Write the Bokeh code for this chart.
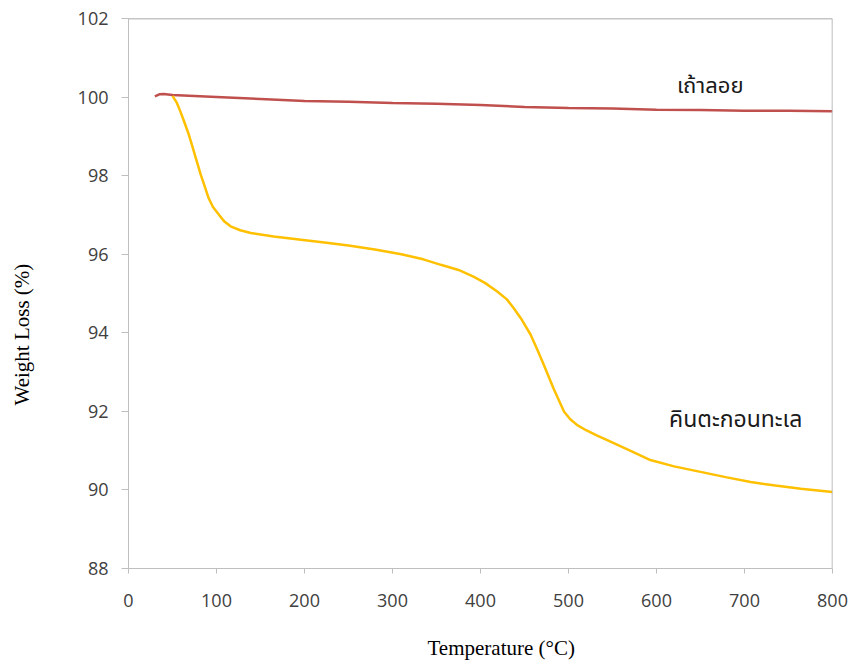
from bokeh.plotting import figure
from bokeh.models import SingleIntervalTicker, Span, Label, Title
from bokeh.embed import file_html
from bokeh.resources import INLINE

# Data
fly_ash_name = "เถ้าลอย"
fly_ash_temp = [30, 35, 40, 50, 100, 150, 200, 250, 300, 350, 400, 450, 500, 550, 600, 650, 700, 750, 800]
fly_ash_wt = [100.02, 100.07, 100.08, 100.05, 100.0, 99.95, 99.9, 99.88, 99.85, 99.83, 99.8, 99.75,
              99.72, 99.71, 99.68, 99.67, 99.65, 99.65, 99.64]

sediment_name = "คินตะกอนทะเล"
sediment_temp = [50, 55, 59, 63, 68, 72, 77, 82, 87, 91, 96, 103, 109, 116, 127, 139, 165, 196, 225,
                 250, 280, 310, 335, 355, 375, 392, 405, 419, 430, 438, 447, 457, 465, 472, 483, 495,
                 502, 510, 520, 532, 544, 570, 593, 620, 650, 680, 707, 735, 764, 800]
sediment_wt = [100.03, 99.85, 99.63, 99.39, 99.08, 98.79, 98.41, 98.03, 97.7, 97.43, 97.2, 97.0,
               96.83, 96.71, 96.61, 96.54, 96.45, 96.37, 96.29, 96.22, 96.12, 96.0, 95.87, 95.73,
               95.6, 95.43, 95.27, 95.05, 94.85, 94.62, 94.33, 93.95, 93.55, 93.18, 92.58, 91.99,
               91.8, 91.65, 91.52, 91.39, 91.27, 91.0, 90.76, 90.6, 90.46, 90.32, 90.2, 90.11,
               90.03, 89.95]

x_title = "Temperature (°C)"
y_title = "Weight Loss (%)"

p = figure(width=851, height=662, x_range=(0, 800), y_range=(88, 102),
           output_backend="svg", toolbar_location=None,
           min_border_left=128, min_border_right=19, min_border_top=18, min_border_bottom=94)

p.background_fill_color = "white"
p.border_fill_color = "white"
p.outline_line_color = None
p.xgrid.visible = False
p.ygrid.visible = False

p.line(fly_ash_temp, fly_ash_wt, line_color="#C0504D", line_width=2.5)
p.line(sediment_temp, sediment_wt, line_color="#FFC000", line_width=2.5)

for ax, interval in ((p.xaxis[0], 100), (p.yaxis[0], 2)):
    ax.ticker = SingleIntervalTicker(interval=interval)
    ax.minor_tick_line_color = None
    ax.major_tick_in = 0
    ax.axis_line_color = "#BFBFBF"
    ax.major_tick_line_color = "#BFBFBF"
    ax.major_label_text_font = "Open Sans"
    ax.major_label_text_font_size = "18px"
    ax.major_label_text_color = "#404040"

p.xaxis.major_tick_out = 5
p.yaxis.major_tick_out = 7
p.xaxis.major_label_standoff = 20
p.yaxis.major_label_standoff = 13

p.add_layout(Span(location=102, dimension="width", line_color="#8C8C8C", line_width=1.5))
p.add_layout(Span(location=800, dimension="height", line_color="#A6A6A6", line_width=1.5))

# spacers between axes and their titles
p.add_layout(Title(text=" ", text_font_size="1px", standoff=21), "below")
p.add_layout(Title(text=" ", text_font_size="1px", standoff=38), "left")

# Axis titles (slightly off-centre as in the reference)
p.add_layout(Title(text=x_title, align="left", offset=299, standoff=0,
                   text_font="Liberation Serif", text_font_size="21px",
                   text_font_style="normal", text_color="#000000"), "below")
p.add_layout(Title(text=y_title, align="left", offset=163, standoff=0,
                   text_font="Liberation Serif", text_font_size="21px",
                   text_font_style="normal", text_color="#000000"), "left")

p.add_layout(Label(x=661, y=100.28, text=fly_ash_name, text_align="center", text_baseline="middle",
                   text_font="Noto Sans Thai", text_font_size="22px", text_color="#1A1A1A"))
p.add_layout(Label(x=690, y=91.79, text=sediment_name, text_align="center", text_baseline="middle",
                   text_font="Noto Sans Thai", text_font_size="23px", text_color="#1A1A1A"))

open("out.html", "w").write(file_html(p, INLINE))
